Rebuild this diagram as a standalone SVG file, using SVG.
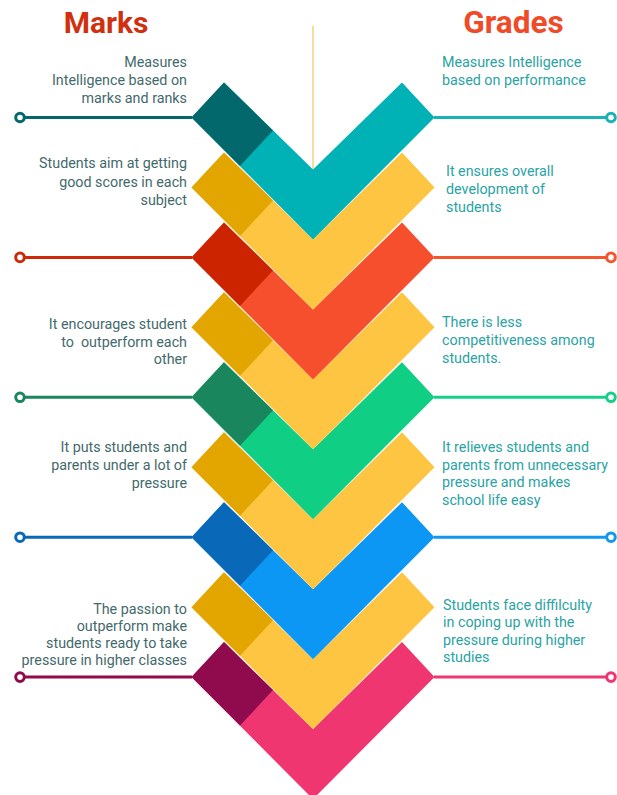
<svg xmlns="http://www.w3.org/2000/svg" width="617" height="795" viewBox="0 0 617 795">
<style>
  .title{font-family:Roboto,"Liberation Sans",sans-serif;font-weight:bold;text-anchor:middle}
  .lt{font-family:Roboto,"Liberation Sans",sans-serif;font-size:14.3px;fill:#436a6b;text-anchor:end}
  .rt{font-family:Roboto,"Liberation Sans",sans-serif;font-size:14.3px;fill:#2aa3a4}
  .ln{stroke-width:3;fill:none}
  .dot{stroke-width:3;fill:#fff}
  .tealL{fill:#00b1b6}.tealD{fill:#03686b}
  .yelL{fill:#fdc542}.yelD{fill:#e3a500}
  .redL{fill:#f54f2d}.redD{fill:#cc2400}
  .grnL{fill:#10cf84}.grnD{fill:#19865d}
  .bluL{fill:#0b97f3}.bluD{fill:#0a68b9}
  .magL{fill:#ef3670}.magD{fill:#8f0b4d}
</style>
<defs>
  <path id="chev" d="M191.5,0 L224,-35 L313,52 L402,-35 L434.5,0 L313,122 Z"/>
  <path id="cap" d="M191.5,0 L224,-35 L273,13 L240,48.5 Z"/>
</defs>
<rect width="617" height="795" fill="#ffffff"/>

<g id="titles">
  <text class="title" x="106" y="33" font-size="30" fill="#d0300f">Marks</text>
  <text class="title" x="513.5" y="33" font-size="31.5" fill="#f04a28">Grades</text>
</g>

<line id="center-line" x1="313" y1="26" x2="313" y2="170" stroke="#f5dca0" stroke-width="2"/>

<g id="connectors">
  <line class="ln" x1="20" y1="117.5" x2="192" y2="117.5" stroke="#03686b"/>
  <line class="ln" x1="434" y1="117.5" x2="611" y2="117.5" stroke="#1ab3b5"/>
  <circle class="dot" cx="20" cy="117.5" r="4.3" stroke="#03686b"/>
  <circle class="dot" cx="611" cy="117.5" r="4.3" stroke="#1ab3b5"/>

  <line class="ln" x1="20" y1="257.4" x2="192" y2="257.4" stroke="#cc2a0a"/>
  <line class="ln" x1="434" y1="257.4" x2="611" y2="257.4" stroke="#f2572e"/>
  <circle class="dot" cx="20" cy="257.4" r="4.3" stroke="#cc2a0a"/>
  <circle class="dot" cx="611" cy="257.4" r="4.3" stroke="#f2572e"/>

  <line class="ln" x1="20" y1="397.3" x2="192" y2="397.3" stroke="#19865d"/>
  <line class="ln" x1="434" y1="397.3" x2="611" y2="397.3" stroke="#14d088"/>
  <circle class="dot" cx="20" cy="397.3" r="4.3" stroke="#19865d"/>
  <circle class="dot" cx="611" cy="397.3" r="4.3" stroke="#14d088"/>

  <line class="ln" x1="20" y1="537.2" x2="192" y2="537.2" stroke="#0a68b9"/>
  <line class="ln" x1="434" y1="537.2" x2="611" y2="537.2" stroke="#1098f0"/>
  <circle class="dot" cx="20" cy="537.2" r="4.3" stroke="#0a68b9"/>
  <circle class="dot" cx="611" cy="537.2" r="4.3" stroke="#1098f0"/>

  <line class="ln" x1="20" y1="677.1" x2="192" y2="677.1" stroke="#8f0b4d"/>
  <line class="ln" x1="434" y1="677.1" x2="611" y2="677.1" stroke="#ef3670"/>
  <circle class="dot" cx="20" cy="677.1" r="4.3" stroke="#8f0b4d"/>
  <circle class="dot" cx="611" cy="677.1" r="4.3" stroke="#ef3670"/>
</g>

<g id="chevrons">
  <g id="chevron-9"><use href="#chev" y="677.1" class="magL"/><use href="#cap" y="677.1" class="magD"/></g>
  <g id="chevron-8"><use href="#chev" y="607.15" class="yelL"/><use href="#cap" y="607.15" class="yelD"/></g>
  <g id="chevron-7"><use href="#chev" y="537.2" class="bluL"/><use href="#cap" y="537.2" class="bluD"/></g>
  <g id="chevron-6"><use href="#chev" y="467.25" class="yelL"/><use href="#cap" y="467.25" class="yelD"/></g>
  <g id="chevron-5"><use href="#chev" y="397.3" class="grnL"/><use href="#cap" y="397.3" class="grnD"/></g>
  <g id="chevron-4"><use href="#chev" y="327.35" class="yelL"/><use href="#cap" y="327.35" class="yelD"/></g>
  <g id="chevron-3"><use href="#chev" y="257.4" class="redL"/><use href="#cap" y="257.4" class="redD"/></g>
  <g id="chevron-2"><use href="#chev" y="187.45" class="yelL"/><use href="#cap" y="187.45" class="yelD"/></g>
  <g id="chevron-1"><use href="#chev" y="117.5" class="tealL"/><use href="#cap" y="117.5" class="tealD"/></g>
</g>

<g id="marks-1" class="lt">
  <text x="187" y="66.7">Measures</text>
  <text x="187" y="84.7">Intelligence based on</text>
  <text x="187" y="102.7">marks and ranks</text>
</g>
<g id="marks-2" class="lt">
  <text x="187" y="168.3">Students aim at getting</text>
  <text x="187" y="186.6">good scores in each</text>
  <text x="187" y="204.9">subject</text>
</g>
<g id="marks-3" class="lt">
  <text x="187" y="329">It encourages student</text>
  <text x="187" y="346.5" style="white-space:pre">to  outperform each</text>
  <text x="187" y="364">other</text>
</g>
<g id="marks-4" class="lt">
  <text x="187" y="452.3">It puts students and</text>
  <text x="187" y="470">parents under a lot of</text>
  <text x="187" y="487.7">pressure</text>
</g>
<g id="marks-5" class="lt">
  <text x="187" y="613.5">The passion to</text>
  <text x="187" y="630.5">outperform make</text>
  <text x="187" y="647.5">students ready to take</text>
  <text x="187" y="664.5">pressure in higher classes</text>
</g>

<g id="grades-1" class="rt">
  <text x="442" y="66.7">Measures Intelligence</text>
  <text x="442" y="85">based on performance</text>
</g>
<g id="grades-2" class="rt">
  <text x="446" y="175.7">It ensures overall</text>
  <text x="446" y="193.7">development of</text>
  <text x="446" y="211.7">students</text>
</g>
<g id="grades-3" class="rt">
  <text x="442" y="327.3">There is less</text>
  <text x="442" y="345.3">competitiveness among</text>
  <text x="442" y="363.3">students.</text>
</g>
<g id="grades-4" class="rt">
  <text x="442" y="451.7">It relieves students and</text>
  <text x="442" y="469.5">parents from unnecessary</text>
  <text x="442" y="487.3">pressure and makes</text>
  <text x="442" y="505">school life easy</text>
</g>
<g id="grades-5" class="rt">
  <text x="443" y="610">Students face diffilculty</text>
  <text x="443" y="627.3">in coping up with the</text>
  <text x="443" y="644.6">pressure during higher</text>
  <text x="443" y="661.9">studies</text>
</g>
</svg>
